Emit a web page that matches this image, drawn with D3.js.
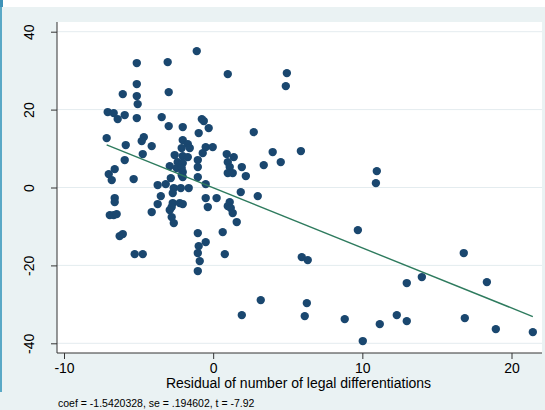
<!DOCTYPE html>
<html>
<head>
<meta charset="utf-8">
<script src="https://cdn.jsdelivr.net/npm/d3@7/dist/d3.min.js"></script>
<style>
  html, body { margin: 0; padding: 0; background: #fff; }
  svg { display: block; font-family: "Liberation Sans", Arial, sans-serif; }
</style>
</head>
<body>
<svg id="chart"></svg>
<script>
// residual of legal differentiations (x) vs residual outcome (y)
const xVals = [
  -1.10, -5.12, -3.05, -5.12, -5.12, -2.98, -6.06, -5.06, 0.98, 4.94,
  4.87, -7.07, -6.67, -5.93, -6.40, -5.12, -3.45, -0.76, -0.63, -2.98,
  -2.04, -0.30, -0.97, 2.72, -7.14, -4.65, -4.79, -5.86, -4.12, -2.04,
  -1.70, -1.57, -2.11, -0.50, -0.03, -4.72, -0.70, -2.58, -2.04, -1.70,
  0.91, 1.38, -5.93, -1.03, -2.38, -2.04, -2.24, -2.44, -2.11, -2.04,
  -2.11, -2.91, -1.03, 0.98, 1.11, 0.98, 1.31, 1.92, 2.19, 3.39,
  3.99, 4.53, 5.88, -6.60, -7.00, -6.80, -5.33, -2.84, -2.04, -1.03,
  -3.72, -3.18, -0.50, -2.64, -2.71, -2.17, -1.64, -3.51, -0.50, 0.23,
  1.85, 2.99, -2.71, -2.78, -2.91, -2.24, -2.04, -3.72, -4.12, -0.36,
  -2.78, -2.64, 1.11, 0.98, 1.18, 1.31, 1.58, -6.60, -6.60, -6.93,
  -6.67, -6.47, -6.27, -6.06, -5.26, -4.72, -1.03, -0.50, -0.97, -1.03,
  -0.90, -1.03, 0.64, 0.78, 5.94, 6.34, 9.70, 16.80, 12.98, 13.99,
  18.35, 3.19, 1.92, 6.28, 6.14, 8.82, 10.03, 11.17, 12.31, 12.98,
  16.87, 18.95, 21.43, 10.97, 10.91
];
const yVals = [
  35.02, 31.94, 32.19, 26.55, 23.47, 24.49, 23.98, 21.41, 29.11, 29.37,
  26.03, 19.36, 19.10, 18.59, 17.56, 17.82, 18.07, 17.56, 17.05, 15.76,
  15.51, 15.25, 13.97, 14.22, 12.68, 12.94, 11.91, 10.89, 10.63, 12.17,
  11.14, 10.12, 10.12, 10.37, 10.37, 8.58, 8.83, 8.32, 8.06, 7.80,
  8.58, 7.80, 7.04, 7.04, 6.52, 6.26, 5.24, 4.98, 4.98, 3.95,
  3.18, 5.49, 5.24, 6.52, 5.24, 3.70, 3.70, 5.24, 2.93, 5.75,
  9.09, 6.52, 9.35, 4.72, 3.44, 1.90, 2.16, 2.41, 2.67, 2.67,
  0.62, 0.87, 0.87, -0.15, -1.44, -0.15, -0.15, -2.21, -2.72, -2.72,
  -1.18, -2.21, -4.00, -5.03, -5.80, -4.00, -4.26, -4.26, -6.31, -5.03,
  -7.60, -9.14, -3.75, -4.78, -5.29, -6.57, -8.88, -2.72, -3.75, -7.09,
  -7.09, -6.83, -12.48, -11.96, -17.10, -17.10, -11.71, -14.02, -15.05, -16.84,
  -18.90, -21.46, -11.45, -17.10, -17.87, -18.64, -10.94, -16.84, -24.54, -23.00,
  -24.29, -28.91, -32.76, -29.68, -33.02, -33.79, -39.43, -35.07, -32.76, -34.30,
  -33.53, -36.36, -37.13, 4.21, 1.13
];
const xTicks = [-10, 0, 10, 20];
const yTicks = [-40, -20, 0, 20, 40];
const coef = -1.5420328;
const intercept = -0.09;
const xLabel = 'Residual of number of legal differentiations';
const note = 'coef = -1.5420328, se = .194602, t = -7.92';

const points = xVals.map((x, i) => ({ x, y: yVals[i] }));

const width = 545;
const height = 410;
const plot = { left: 57, top: 22, right: 542, bottom: 353 };

const svg = d3.select('#chart')
  .attr('width', width)
  .attr('height', height);

// fondo estilo stata
svg.append('rect')
  .attr('x', 0).attr('y', 7)
  .attr('width', width).attr('height', height - 7)
  .attr('fill', '#eaf2f3');
svg.append('rect')
  .attr('x', 0).attr('y', 0)
  .attr('width', 2).attr('height', 392)
  .attr('fill', '#5aa9c6');
svg.append('rect')
  .attr('x', 0).attr('y', 0)
  .attr('width', 3).attr('height', 7)
  .attr('fill', '#3f93b8');

svg.append('rect')
  .attr('x', plot.left).attr('y', plot.top)
  .attr('width', plot.right - plot.left).attr('height', plot.bottom - plot.top)
  .attr('fill', '#fff');

// escalas
const xScale = d3.scaleLinear().domain([-10, 20]).range([64, 511.5]);
const yScale = d3.scaleLinear().domain([-40, 40]).range([343.3, 31.7]);

// guion normal en vez del signo menos de d3
const fmt = d => String(d);

// grid
svg.append('g')
  .selectAll('line')
  .data(yTicks)
  .join('line')
  .attr('x1', plot.left).attr('x2', plot.right)
  .attr('y1', d => yScale(d)).attr('y2', d => yScale(d))
  .attr('stroke', '#e4ecef')
  .attr('stroke-width', 1);

// ejes
const yAxis = svg.append('g')
  .attr('transform', `translate(${plot.left},0)`)
  .call(d3.axisLeft(yScale).tickValues(yTicks).tickFormat(fmt).tickSize(6).tickSizeOuter(0));
yAxis.select('.domain').attr('d', `M0,${plot.top}V${plot.bottom}`);
// etiquetas giradas, de abajo hacia arriba
yAxis.selectAll('.tick text')
  .attr('transform', 'rotate(-90)')
  .attr('x', 0)
  .attr('y', -23)
  .attr('dy', 0)
  .attr('text-anchor', 'middle')
  .style('font-size', '14px')
  .attr('fill', '#000');

const xAxis = svg.append('g')
  .attr('transform', `translate(0,${plot.bottom})`)
  .call(d3.axisBottom(xScale).tickValues(xTicks).tickFormat(fmt).tickSize(6).tickPadding(4).tickSizeOuter(0));
xAxis.select('.domain').attr('d', `M${plot.left},0H${plot.right}`);
xAxis.selectAll('text')
  .style('font-size', '14px')
  .attr('fill', '#000');

svg.selectAll('.domain, .tick line').attr('stroke', '#333');

// puntos
svg.append('g')
  .selectAll('circle')
  .data(points)
  .join('circle')
  .attr('cx', d => xScale(d.x))
  .attr('cy', d => yScale(d.y))
  .attr('r', 4.2)
  .attr('fill', '#1a476f');

// linea de ajuste
const [xMin, xMax] = d3.extent(xVals);
svg.append('line')
  .attr('x1', xScale(xMin)).attr('y1', yScale(intercept + coef * xMin))
  .attr('x2', xScale(xMax)).attr('y2', yScale(intercept + coef * xMax))
  .attr('stroke', '#2e7b5e')
  .attr('stroke-width', 1.4);

// titulos
svg.append('text')
  .attr('x', 298.5).attr('y', 388)
  .attr('text-anchor', 'middle')
  .style('font-size', '14px')
  .text(xLabel);

svg.append('text')
  .attr('x', 58).attr('y', 407)
  .style('font-size', '10.5px')
  .text(note);
</script>
</body>
</html>
